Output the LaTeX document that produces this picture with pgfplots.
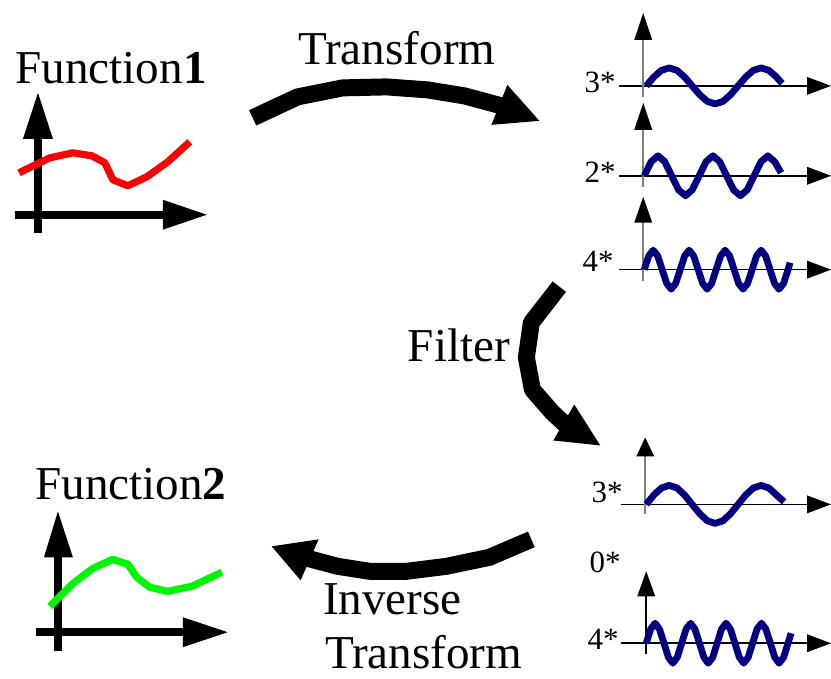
\documentclass[border=0pt]{standalone}
\usepackage{pgfplots}
\pgfplotsset{compat=1.18}
\usepackage{fontspec}
\setmainfont{Liberation Serif}
\definecolor{wave}{RGB}{0,0,128}
\definecolor{fone}{RGB}{255,0,0}
\definecolor{ftwo}{RGB}{0,245,0}
\newcommand\bigf{\fontsize{23.6}{28.3}\selectfont}
\newcommand\smallf{\fontsize{15.5}{18}\selectfont}
\tikzset{big/.style={anchor=base west, inner sep=0pt, font=\bigf},
         sml/.style={anchor=base west, inner sep=0pt, font=\smallf}}
\begin{document}
\begin{tikzpicture}
\begin{axis}[
    width=415.5pt, height=339.5pt, scale only axis,
    xmin=0, xmax=831, ymin=0, ymax=679, y dir=reverse,
    hide axis, clip=false,
]
\addplot[draw=none] coordinates {(0,0) (831,679)};

% ---- Function 1 ----
\addplot[black, line width=4pt] coordinates {(38,136) (38,233)};
\addplot[fill=black, draw=none] coordinates {(38,93) (23,139) (53,139)};
\addplot[black, line width=4pt] coordinates {(15,215) (165,215)};
\addplot[fill=black, draw=none] coordinates {(207,215) (163,200) (163,230)};
\addplot[fone, line width=3.6pt, line join=round] coordinates {
    (19,173) (50,158) (73,153) (92,156) (105,163) (113,180)
    (128,186) (147,177) (168,162) (190,142)};
\node[big] at (axis cs:15,84) {Function\textbf{1}};

% ---- Function 2 ----
\addplot[black, line width=4pt] coordinates {(58,555) (58,652)};
\addplot[fill=black, draw=none] coordinates {(58,512) (44,558) (73,558)};
\addplot[black, line width=4pt] coordinates {(36,633) (185,633)};
\addplot[fill=black, draw=none] coordinates {(228,633) (183,618) (183,648)};
\addplot[ftwo, line width=3.6pt, line join=round] coordinates {
    (50,607) (72,585) (93,569) (113,560) (128,565) (137,578)
    (150,588) (168,592) (192,587) (222,573)};
\node[big] at (axis cs:35,500) {Function\textbf{2}};

% ---- big arrows ----
\addplot[black, line width=8.5pt, line join=round] coordinates {
    (253,118) (298,97) (343,88) (387,87) (428,90) (465,96) (502,106)};
\addplot[fill=black, draw=none] coordinates {(540,121) (508,85) (492,125)};
\node[big] at (axis cs:298,65) {Transform};

\addplot[black, line width=8.5pt, line join=round] coordinates {
    (560,287) (532,323) (527,358) (533,390) (553,413) (566,425)};
\addplot[fill=black, draw=none] coordinates {(601,446) (575,405) (554,441)};
\node[big] at (axis cs:408,362) {Filter};

\addplot[black, line width=8.5pt, line join=round] coordinates {
    (532,540) (490,558) (447,567) (407,572) (370,572) (338,567) (308,559)};
\addplot[fill=black, draw=none] coordinates {(272,547) (319,540) (301,581)};
\node[big] at (axis cs:323,615) {Inverse};
\node[big] at (axis cs:325,669) {Transform};

% ---- spectrum: top 3* ----
\addplot[black, line width=0.8pt] coordinates {(620,86) (810,86)};
\addplot[fill=black, draw=none] coordinates {(832,86) (808,77) (808,95)};
\addplot[gray, line width=1pt] coordinates {(644,39) (644,97)};
\addplot[fill=black, draw=none] coordinates {(644,13) (635,40) (653,40)};
\addplot[wave, line width=3.4pt, line join=round] coordinates {
    (647.0,86) (654.7,77) (662.3,70.4) (670.0,68) (677.7,70.4) (685.3,77)
    (693.0,86) (700.7,95) (708.3,101.6) (716.0,104) (723.7,101.6) (731.3,95)
    (739.0,86) (746.7,77) (754.3,70.4) (762.0,68) (769.7,70.4) (777.3,77)
    (783,83.5)};
\node[sml] at (axis cs:585,93) {3*};

% ---- 2* ----
\addplot[black, line width=0.8pt] coordinates {(620,176) (810,176)};
\addplot[fill=black, draw=none] coordinates {(832,176) (808,167) (808,185)};
\addplot[gray, line width=1pt] coordinates {(644,129) (644,187)};
\addplot[fill=black, draw=none] coordinates {(644,103) (635,130) (653,130)};
\addplot[wave, line width=3.4pt, line join=round] coordinates {
    (645.0,176) (651.9,161.9) (658.8,156) (665.6,161.9) (672.5,176)
    (679.4,190.1) (686.3,196) (693.1,190.1) (700.0,176) (706.9,161.9)
    (713.8,156) (720.6,161.9) (727.5,176) (734.4,190.1) (741.3,196)
    (748.1,190.1) (755.0,176) (761.9,161.9) (768.8,156) (775.6,161.9)
    (782,173)};
\node[sml] at (axis cs:585,183) {2*};

% ---- upper 4* ----
\addplot[black, line width=0.8pt] coordinates {(620,270) (810,270)};
\addplot[fill=black, draw=none] coordinates {(832,270) (808,261) (808,279)};
\addplot[gray, line width=1pt] coordinates {(644,222) (644,281)};
\addplot[fill=black, draw=none] coordinates {(644,197) (635,223) (653,223)};
\addplot[wave, line width=3.4pt, line join=round] coordinates {
    (645,270) (649.5,256.2) (654,250.5) (658.5,256.2) (663,270) (667.5,283.8)
    (672,289.5) (676.5,283.8) (681,270) (685.5,256.2) (690,250.5) (694.5,256.2)
    (699,270) (703.5,283.8) (708,289.5) (712.5,283.8) (717,270) (721.5,256.2)
    (726,250.5) (730.5,256.2) (735,270) (739.5,283.8) (744,289.5) (748.5,283.8)
    (753,270) (757.5,256.2) (762,250.5) (766.5,256.2) (771,270) (775.5,283.8)
    (780,289.5) (784.5,283.8) (789,270) (791,263)};
\node[sml] at (axis cs:583,272) {4*};

% ---- lower 3* ----
\addplot[black, line width=0.8pt] coordinates {(622,505) (810,505)};
\addplot[fill=black, draw=none] coordinates {(832,505) (808,496) (808,514)};
\addplot[gray, line width=1pt] coordinates {(646,456) (646,515)};
\addplot[fill=black, draw=none] coordinates {(646,438) (637,457) (655,457)};
\addplot[wave, line width=3.4pt, line join=round] coordinates {
    (647.0,505) (654.7,495.5) (662.3,488.5) (670.0,486) (677.7,488.5) (685.3,495.5)
    (693.0,505) (700.7,514.5) (708.3,521.5) (716.0,524) (723.7,521.5) (731.3,514.5)
    (739.0,505) (746.7,495.5) (754.3,488.5) (762.0,486) (769.7,488.5) (777.3,495.5)
    (785,502.4)};
\node[sml] at (axis cs:592,503) {3*};

\node[sml] at (axis cs:590,573) {0*};

% ---- lower 4* ----
\addplot[black, line width=0.8pt] coordinates {(622,644) (810,644)};
\addplot[fill=black, draw=none] coordinates {(832,644) (808,635) (808,653)};
\addplot[black, line width=0.8pt] coordinates {(647,596) (647,655)};
\addplot[fill=black, draw=none] coordinates {(647,572) (638,597) (656,597)};
\addplot[wave, line width=3.4pt, line join=round] coordinates {
    (647.0,644) (651.4,629.9) (655.9,624) (660.3,629.9) (664.8,644) (669.2,658.1)
    (673.6,664) (678.1,658.1) (682.5,644) (686.9,629.9) (691.4,624) (695.8,629.9)
    (700.3,644) (704.7,658.1) (709.1,664) (713.6,658.1) (718.0,644) (722.4,629.9)
    (726.9,624) (731.3,629.9) (735.8,644) (740.2,658.1) (744.6,664) (749.1,658.1)
    (753.5,644) (757.9,629.9) (762.4,624) (766.8,629.9) (771.3,644) (775.7,658.1)
    (780.1,664) (784.6,658.1) (789.0,644) (792,634)};
\node[sml] at (axis cs:588,650) {4*};
\end{axis}
\end{tikzpicture}
\end{document}
